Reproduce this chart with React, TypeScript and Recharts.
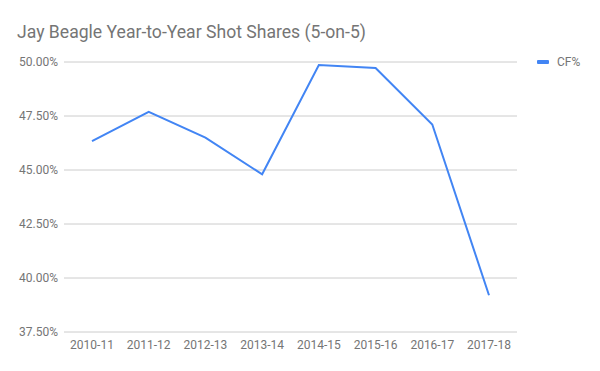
import React from "react";
import { LineChart, Line, XAxis, YAxis, CartesianGrid } from "recharts";

const SEASONS = ["2010-11", "2011-12", "2012-13", "2013-14", "2014-15", "2015-16", "2016-17", "2017-18"];
const CF_PCT = [46.34, 47.69, 46.5, 44.8, 49.86, 49.72, 47.11, 39.2];
const Y_TICKS = [37.5, 40, 42.5, 45, 47.5, 50];

const data = SEASONS.map((season, i) => ({ season, cf: CF_PCT[i] }));

const FONT = "Roboto, Arial, sans-serif";
const GREY = "#757575";

export default function App() {
  return (
    <div style={{ position: "relative", width: 600, height: 371, margin: -8, background: "#fff" }}>
      <div
        style={{
          position: "absolute",
          left: 17,
          top: 22,
          fontFamily: FONT,
          fontSize: 17.6,
          color: GREY,
          whiteSpace: "nowrap",
        }}
      >
        Jay Beagle Year-to-Year Shot Shares (5-on-5)
      </div>
      {/* legend */}
      <div
        style={{
          position: "absolute",
          left: 537,
          top: 55,
          display: "flex",
          alignItems: "center",
          fontFamily: FONT,
          fontSize: 12,
          color: GREY,
        }}
      >
        <span style={{ display: "inline-block", width: 12, height: 4, borderRadius: 1, background: "#4285F4", marginRight: 8 }} />
        CF%
      </div>
      <LineChart width={600} height={371} data={data} margin={{ top: 62, right: 83, bottom: 9, left: 0 }}>
        <CartesianGrid vertical={false} stroke="#cccccc" />
        <XAxis
          dataKey="season"
          axisLine={false}
          tickLine={false}
          height={30}
          padding={{ left: 28, right: 28 }}
          tick={{ fill: GREY, fontSize: 12, fontFamily: FONT }}
          interval={0}
        />
        <YAxis
          domain={[37.5, 50]}
          ticks={Y_TICKS}
          width={64}
          axisLine={false}
          tickLine={false}
          tickSize={4}
          tickMargin={2}
          tickFormatter={(v: number) => v.toFixed(2) + "%"}
          tick={{ fill: GREY, fontSize: 12, fontFamily: FONT }}
        />
        <Line
          type="linear"
          dataKey="cf"
          name="CF%"
          stroke="#4285F4"
          strokeWidth={2}
          dot={false}
          activeDot={false}
          isAnimationActive={false}
        />
      </LineChart>
    </div>
  );
}
